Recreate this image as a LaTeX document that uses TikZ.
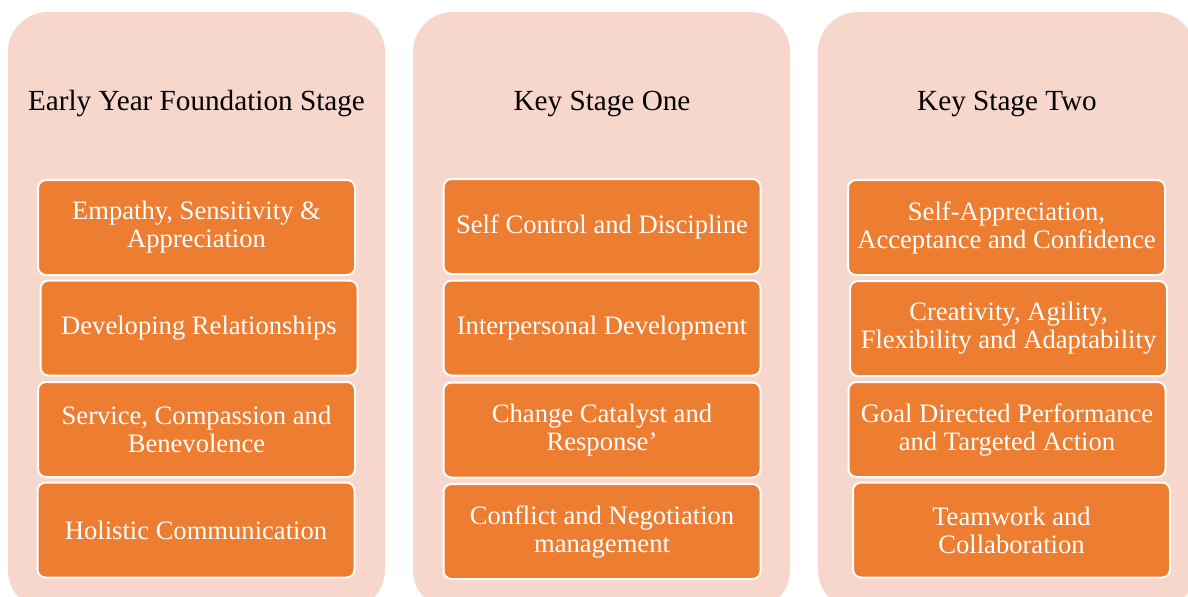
\documentclass[tikz,border=0pt]{standalone}
\usepackage{fontspec}
\setmainfont{Liberation Serif}
\definecolor{stagepink}{HTML}{F7D7CC}
\definecolor{skillorange}{HTML}{ED7D31}
\tikzset{
  stagepanel/.style={fill=stagepink,draw=none,rounded corners=20pt},
  stagetitle/.style={anchor=base,text=black,font=\fontsize{14.6}{17}\selectfont},
  skillbox/.style={draw=white,line width=1pt,fill=skillorange,rounded corners=4pt,
    minimum width=158.5pt,minimum height=47.5pt,inner sep=0pt,align=center,
    text=white,font=\fontsize{13.3}{14}\selectfont}
}
\begin{document}
\begin{tikzpicture}[x=0.5pt,y=-0.5pt]
  \useasboundingbox (0,0) rectangle (1188,596);
  \clip (0,0) rectangle (1188,596);
   \coordinate (Corner) at (0,0);
  % three stage panels
  \foreach \px in {8,413,818}{
    \fill[stagepanel] (\px,12) rectangle (\px+377,610);
    }
  \node[stagetitle] (eyfs) at (196.5,110) {Early Year Foundation Stage};
  \node[stagetitle] (ksone) at (602,110) {Key Stage One};
  \node[stagetitle] (kstwo) at (1007,110) {Key Stage Two};
  % Early Year Foundation Stage
  \node[skillbox] (empathy) at (196.5,227.5) {Empathy, Sensitivity \&\\Appreciation};
  \node[skillbox] (relations) at (199,328) {Developing Relationships};
  \node[skillbox] (service) at (196.5,429.5) {Service, Compassion and\\Benevolence};
  \node[skillbox] (holistic) at (196,530) {Holistic Communication};
  % Key Stage One
  \node[skillbox] (selfcontrol) at (602,226.5) {Self Control and Discipline};
  \node[skillbox] (interpersonal) at (602,328) {Interpersonal Development};
  \node[skillbox] (catalyst) at (602,430) {Change Catalyst and\\Response’};
  \node[skillbox] (conflict) at (602,531.5) {Conflict and Negotiation\\management};
  % Key Stage Two
  \node[skillbox] (selfapp) at (1006.5,227.5) {Self-Appreciation,\\Acceptance and Confidence};
  \node[skillbox] (creativity) at (1008.5,328.5) {Creativity, Agility,\\Flexibility and Adaptability};
  \node[skillbox] (goal) at (1007,429.5) {Goal Directed Performance\\and Targeted Action};
  \node[skillbox] (teamwork) at (1011.5,530) {Teamwork and\\Collaboration};
\end{tikzpicture}
\end{document}
